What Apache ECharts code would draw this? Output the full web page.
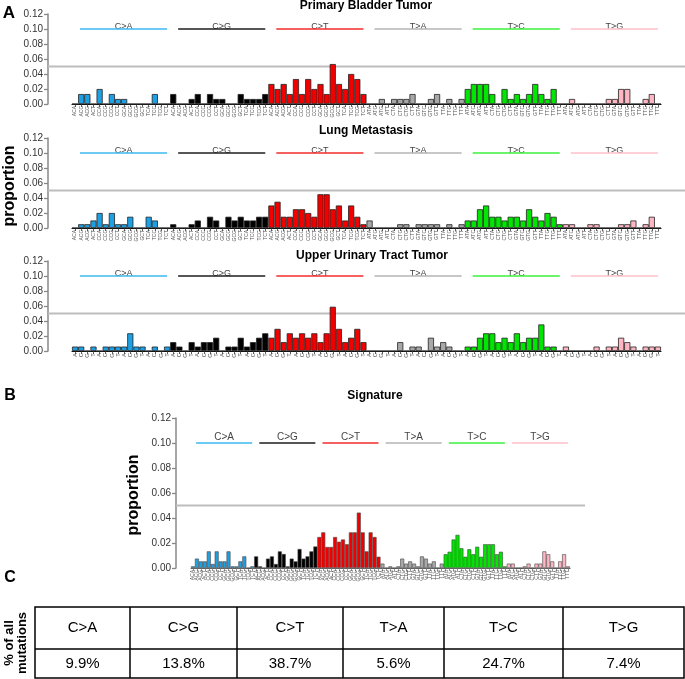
<!DOCTYPE html>
<html><head><meta charset="utf-8">
<script src="https://cdn.jsdelivr.net/npm/echarts@6/dist/echarts.min.js"></script>
<style>html,body{margin:0;padding:0;background:#fff;}#c{width:685px;height:679px;}</style>
</head><body><div id="c"></div><script>
// ---------- categories / labels ----------
const cContexts = ["ACA","ACC","ACG","ACT","CCA","CCC","CCG","CCT","GCA","GCC","GCG","GCT","TCA","TCC","TCG","TCT"];
const tContexts = ["ATA","ATC","ATG","ATT","CTA","CTC","CTG","CTT","GTA","GTC","GTG","GTT","TTA","TTC","TTG","TTT"];
const mutationTypes = ["C>A","C>G","C>T","T>A","T>C","T>G"];
const categories = [].concat(cContexts, cContexts, cContexts, tContexts, tContexts, tContexts);
const threePrimeLabels = categories.map(s => s.charAt(2));
const yTickValues = [0, 0.02, 0.04, 0.06, 0.08, 0.10, 0.12];
const refLineValue = 0.05;
const groupLineValue = 0.10;

// ---------- Primary Bladder Tumor ----------
const primaryCA = [0,0.0133,0.0133,0,0.02,0,0.0133,0.0067,0.0067,0,0,0,0,0.0133,0,0];
const primaryCG = [0.0133,0,0,0.0067,0.0133,0,0.0133,0.0067,0.0067,0,0,0.0133,0.0067,0.0067,0.0067,0.0133];
const primaryCT = [0.0267,0.02,0.0267,0.0133,0.0333,0.0133,0.0333,0.02,0.0267,0.0133,0.0533,0.0267,0.02,0.04,0.0333,0.0133];
const primaryTA = [0,0,0.0067,0,0.0067,0.0067,0.0067,0.0133,0,0,0.0067,0.0133,0,0.0067,0,0.0067];
const primaryTC = [0.02,0.0267,0.0267,0.0267,0.0133,0,0.02,0.0067,0.0133,0.0067,0.0133,0.0267,0.0133,0.0067,0.02,0];
const primaryTG = [0,0.0067,0,0,0,0,0,0.0067,0.0067,0.02,0.02,0,0,0.0067,0.0133,0];

// ---------- Lung Metastasis ----------
const lungCA = [0,0.005,0.005,0.01,0.02,0.005,0.02,0.005,0.005,0.015,0,0,0.015,0.01,0,0];
const lungCG = [0.005,0,0,0.005,0.01,0,0.015,0.01,0,0.015,0.01,0.015,0.01,0.01,0.015,0.015];
const lungCT = [0.03,0.035,0.015,0.015,0.025,0.025,0.02,0.015,0.045,0.045,0.025,0.03,0.01,0.03,0.015,0.005];
const lungTA = [0.01,0,0,0,0,0.005,0.005,0,0.005,0.005,0.005,0.005,0,0.005,0,0.005];
const lungTC = [0.01,0.01,0.025,0.03,0.015,0.015,0.01,0.015,0.015,0.01,0.025,0.015,0.01,0.02,0.015,0.005];
const lungTG = [0.005,0.005,0,0,0.005,0.005,0,0,0,0.005,0.005,0.01,0,0.005,0.015,0];

// ---------- Upper Urinary Tract Tumor ----------
const upperCA = [0.0059,0.0059,0,0.0059,0,0.0059,0.0059,0.0059,0.0059,0.0236,0.0059,0.0059,0,0.0059,0,0.0059];
const upperCG = [0.0118,0.0059,0,0.0118,0.0059,0.0118,0.0118,0.0177,0,0.0059,0.0059,0.0177,0.0059,0.0118,0.0177,0.0236];
const upperCT = [0.0177,0.0295,0.0118,0.0236,0.0177,0.0236,0.0177,0.0236,0.0118,0.0236,0.059,0.0295,0.0118,0.0177,0.0295,0.0118];
const upperTA = [0,0,0,0,0,0.0118,0,0.0059,0.0059,0,0.0177,0.0059,0.0118,0.0059,0,0];
const upperTC = [0.0059,0.0059,0.0177,0.0236,0.0236,0.0118,0.0177,0.0118,0.0236,0.0118,0.0177,0.0177,0.0354,0.0059,0.0059,0];
const upperTG = [0.0059,0,0,0,0,0.0059,0,0.0059,0.0059,0.0177,0.0118,0.0059,0,0.0059,0.0059,0.0059];

// ---------- Signature ----------
const sigCA = [0.0013,0.0075,0.0053,0.0053,0.0133,0.0032,0.0133,0.0053,0.0053,0.0133,0.0013,0.0013,0.0053,0.0093,0,0.0013];
const sigCG = [0.0093,0.0013,0,0.0075,0.0093,0.0032,0.0133,0.0112,0.0013,0.0075,0.0053,0.0152,0.0075,0.0093,0.0133,0.0172];
const sigCT = [0.0248,0.0285,0.0168,0.0168,0.0248,0.021,0.0228,0.019,0.0285,0.0285,0.0443,0.0285,0.0133,0.0285,0.0248,0.009];
const sigTA = [0.0035,0,0.0013,0,0.0013,0.0075,0.0035,0.0053,0.0035,0.0013,0.0093,0.0075,0.0035,0.0053,0,0.0035];
const sigTC = [0.011,0.013,0.0228,0.0265,0.0158,0.009,0.015,0.011,0.017,0.009,0.019,0.019,0.019,0.011,0.013,0.0013];
const sigTG = [0.0035,0.0035,0,0,0.0013,0.0035,0,0.0035,0.0035,0.0133,0.011,0.0053,0,0.0053,0.011,0.0013];

// ---------- table C ----------
const tableTypes = ["C>A","C>G","C>T","T>A","T>C","T>G"];
const tablePercents = ["9.9%","13.8%","38.7%","5.6%","24.7%","7.4%"];

// ---------- styles ----------
const barColors = ["#1EA0E4","#000000","#F20000","#A8A8A8","#00E600","#FFB6C2"];
const lineColors = ["#3DB9EE","#1E1E1E","#F22C2C","#B4B4B4","#3CF03C","#FFC0CB"];
const FONT = '"Liberation Sans", Arial, Helvetica, sans-serif';

const panels = [
  {title:"Primary Bladder Tumor", values:[].concat(primaryCA,primaryCG,primaryCT,primaryTA,primaryTC,primaryTG),
   grid:{left:72, top:14, width:589, height:90}, yOffset:24, xLabels:categories, xLabelSize:5,
   groupFont:9, groupDy:-2, lineW:1.6, refRight:685, titleX:366, titleY:6, yLabelSize:10},
  {title:"Lung Metastasis", values:[].concat(lungCA,lungCG,lungCT,lungTA,lungTC,lungTG),
   grid:{left:72, top:138, width:589, height:90}, yOffset:24, xLabels:categories, xLabelSize:5,
   groupFont:9, groupDy:-2, lineW:1.6, refRight:685, titleX:366, titleY:131, yLabelSize:10},
  {title:"Upper Urinary Tract Tumor", values:[].concat(upperCA,upperCG,upperCT,upperTA,upperTC,upperTG),
   grid:{left:72, top:261, width:589, height:90}, yOffset:24, xLabels:threePrimeLabels, xLabelSize:6,
   groupFont:9, groupDy:-2, lineW:1.6, refRight:685, titleX:372, titleY:256, yLabelSize:10},
  {title:"Signature", values:[].concat(sigCA,sigCG,sigCT,sigTA,sigTC,sigTG),
   grid:{left:191, top:418, width:379, height:150}, yOffset:15, xLabels:categories, xLabelSize:5,
   groupFont:10, groupDy:-6, lineW:1.6, refRight:585, titleX:375, titleY:396, yLabelSize:10}
];

const chart = echarts.init(document.getElementById('c'), null, {renderer:'canvas', width:685, height:679});

const grids = [], xAxes = [], yAxes = [], series = [];
panels.forEach((P, k) => {
  grids.push(Object.assign({containLabel:false}, P.grid));
  xAxes.push({
    type:'category', gridIndex:k, data:P.xLabels, boundaryGap:true,
    axisLine:{show:true, lineStyle:{color: k===3 ? '#666' : '#111', width:1.2}},
    axisTick:{show:true, interval:0, alignWithLabel:true, length:3, lineStyle:{color: k===3 ? '#777' : '#333', width:0.8}},
    axisLabel:{show:true, interval:0, rotate:90, fontSize:P.xLabelSize, color:'#555', margin:2, fontFamily:FONT},
    splitLine:{show:false}
  });
  yAxes.push({
    type:'value', gridIndex:k, min:yTickValues[0], max:yTickValues[yTickValues.length-1], interval:0.02,
    offset:P.yOffset,
    axisLine:{show:true, lineStyle:{color:'#888', width:1.5}},
    axisTick:{show:true, length:4, lineStyle:{color:'#888', width:1.3}},
    axisLabel:{formatter:v => v.toFixed(2), fontSize:P.yLabelSize, color:'#333', margin:5, fontFamily:FONT},
    splitLine:{show:false}
  });
  series.push({
    type:'bar', xAxisIndex:k, yAxisIndex:k, data:P.values, barCategoryGap:'0%', barGap:'0%',
    itemStyle:{color:p => barColors[Math.floor(p.dataIndex/16)], borderColor: k===3 ? '#444' : '#222', borderWidth: k===3 ? 0.6 : 0.8},
    emphasis:{disabled:true}, silent:true, animation:false
  });
  series.push({
    type:'custom', xAxisIndex:k, yAxisIndex:k, clip:false, silent:true, z:5, animation:false,
    data: mutationTypes.map((t, g) => [g*16, groupLineValue]),
    renderItem:(params, api) => {
      const g = params.dataIndex;
      const a = api.coord([g*16, groupLineValue]);
      const b = api.coord([g*16+15, groupLineValue]);
      const bw = api.size([1, 0])[0];
      const x0 = a[0] + 0.8*bw, x1 = b[0];
      return {type:'group', children:[
        {type:'text', style:{text:mutationTypes[g], x:(x0+x1)/2, y:a[1]+P.groupDy, align:'center', verticalAlign:'middle',
          textAlign:'center', textVerticalAlign:'middle', fill:'#444', font:P.groupFont+'px '+FONT}},
        {type:'line', shape:{x1:x0, y1:a[1], x2:x1, y2:a[1]}, style:{stroke:lineColors[g], lineWidth:P.lineW}}
      ]};
    }
  });
});

chart.setOption({animation:false, backgroundColor:'#fff', grid:grids, xAxis:xAxes, yAxis:yAxes, series:series});

// ---------- decorations positioned through the axes ----------
const graphics = [];
function txt(text, x, y, font, opts) {
  return {type:'text', x:x, y:y, silent:true,
    style:Object.assign({text:text, x:0, y:0, font:font, fill:'#000', align:'center', verticalAlign:'middle',
      textAlign:'center', textVerticalAlign:'middle'}, opts || {})};
}
panels.forEach((P, k) => {
  const y05 = chart.convertToPixel({gridIndex:k}, [0, refLineValue])[1];
  const axisX = P.grid.left - P.yOffset;
  graphics.push({type:'line', silent:true, z:1, shape:{x1:axisX, y1:y05, x2:P.refRight, y2:y05},
    style:{stroke:'#BDBDBD', lineWidth:2}});
  graphics.push(txt(P.title, P.titleX, P.titleY, 'bold 12px '+FONT));
});
// y axis names
const pA = txt('proportion', 10, 186, 'bold 16px '+FONT);
pA.rotation = Math.PI/2;
graphics.push(pA);
const pB = txt('proportion', 134, 495, 'bold 16px '+FONT);
pB.rotation = Math.PI/2;
graphics.push(pB);
// panel letters
graphics.push(txt('A', 9, 13, 'bold 17px '+FONT));
graphics.push(txt('B', 10, 396, 'bold 16px '+FONT));
graphics.push(txt('C', 10, 578, 'bold 16px '+FONT));

// table C
const colEdges = [35, 130, 237, 343, 444, 563, 684];
const rowEdges = [607, 649, 678];
graphics.push({type:'rect', silent:true, shape:{x:colEdges[0], y:rowEdges[0], width:colEdges[6]-colEdges[0], height:rowEdges[2]-rowEdges[0]},
  style:{fill:'#fff', stroke:'#000', lineWidth:1.5}});
graphics.push({type:'line', silent:true, shape:{x1:colEdges[0], y1:rowEdges[1], x2:colEdges[6], y2:rowEdges[1]}, style:{stroke:'#000', lineWidth:1.5}});
for (let i = 1; i < colEdges.length - 1; i++) {
  graphics.push({type:'line', silent:true, shape:{x1:colEdges[i], y1:rowEdges[0], x2:colEdges[i], y2:rowEdges[2]}, style:{stroke:'#000', lineWidth:1.5}});
}
const tFont = '15px "Liberation Sans", Arial, sans-serif';
tableTypes.forEach((t, i) => {
  const cx = (colEdges[i] + colEdges[i+1]) / 2;
  graphics.push(txt(t, cx, (rowEdges[0]+rowEdges[1])/2, tFont));
  graphics.push(txt(tablePercents[i], cx, (rowEdges[1]+rowEdges[2])/2, tFont));
});
const m1 = txt('% of all', 9, 643, 'bold 13px '+FONT); m1.rotation = Math.PI/2;
const m2 = txt('mutations', 22, 643, 'bold 13px '+FONT); m2.rotation = Math.PI/2;
graphics.push(m1, m2);

chart.setOption({graphic:{elements:graphics}});
</script></body></html>
